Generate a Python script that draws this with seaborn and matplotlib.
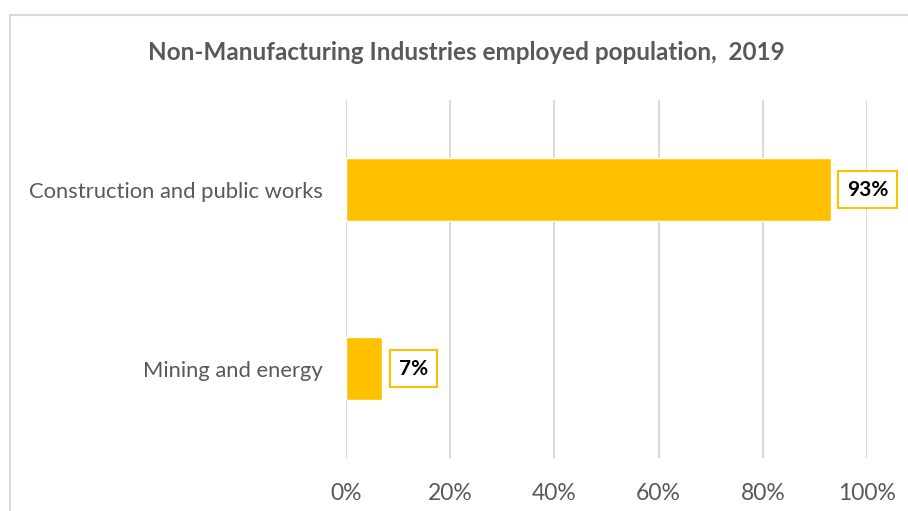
import matplotlib
matplotlib.use("Agg")
import matplotlib.pyplot as plt
import seaborn as sns
import pandas as pd
from matplotlib.lines import Line2D

categories = ["Construction and public works", "Mining and energy"]
shares = [0.93, 0.07]
tick_values = [0, 0.2, 0.4, 0.6, 0.8, 1.0]
tick_labels = ["0%", "20%", "40%", "60%", "80%", "100%"]
title = "Non-Manufacturing Industries employed population,  2019"

sns.set_theme(style="white")
plt.rcParams["font.family"] = ["Lato", "DejaVu Sans"]

df = pd.DataFrame({"category": categories, "share": shares})

fig = plt.figure(figsize=(9.08, 5.11), dpi=100)
ax = fig.add_axes([346/908, 1 - 458/511, (867 - 346)/908, (458 - 100)/511])

sns.barplot(data=df, x="share", y="category", orient="h", color="#FFC000",
            saturation=1, width=0.35, ax=ax, zorder=3)

ax.set_xlim(0, 1.0)
ax.set_ylim(1.5, -0.5)
ax.set_xticks(tick_values)
ax.set_xticklabels(tick_labels)
ax.grid(axis="x", color="#D9D9D9", linewidth=1.5, zorder=0)
ax.grid(axis="y", visible=False)
for s in ax.spines.values():
    s.set_visible(False)
ax.set_xlabel("")
ax.set_ylabel("")
ax.tick_params(axis="x", labelsize=16.5, labelcolor="#595959", pad=18, length=0)
ax.tick_params(axis="y", labelsize=15.8, labelcolor="#595959", pad=17, length=0)

for i, v in enumerate(shares):
    ax.annotate(f"{v*100:.0f}%", xy=(v, i), xytext=(11.7, 0), textcoords="offset points",
                ha="left", va="center", fontsize=15, fontweight="bold", color="black",
                bbox=dict(boxstyle="square,pad=0.42", facecolor="white",
                          edgecolor="#FFC000", linewidth=1.5), zorder=5)

fig.text(466/908, 1 - 52/511, title, ha="center", va="center", fontsize=17.5,
         fontweight="bold", color="#595959")

# chart frame (left and top edges visible)
fig.add_artist(Line2D([10/908, 10/908], [0, 1 - 15/511], transform=fig.transFigure,
                      color="#D9D9D9", linewidth=1.5))
fig.add_artist(Line2D([10/908, 1], [1 - 15/511, 1 - 15/511], transform=fig.transFigure,
                      color="#D9D9D9", linewidth=1.5))

fig.savefig("out.png", dpi=100)
